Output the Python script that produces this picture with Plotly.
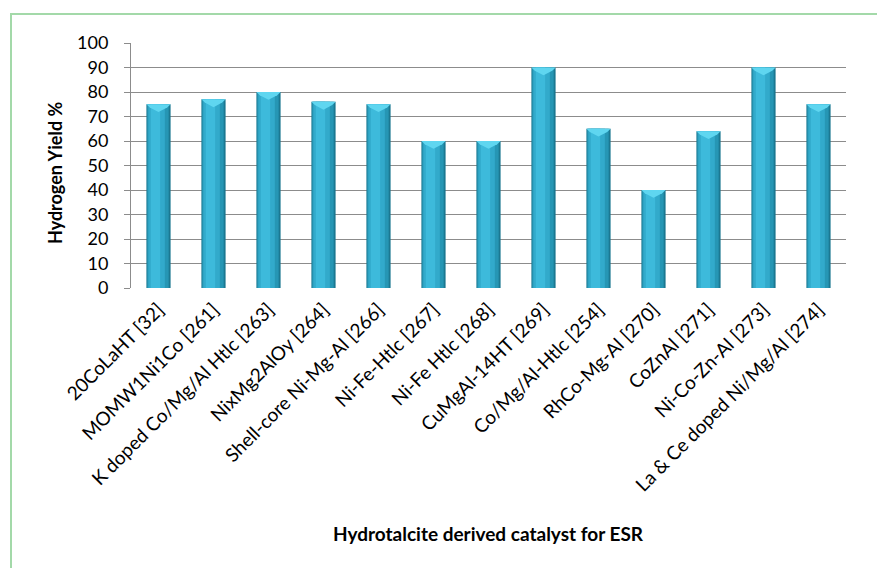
import plotly.graph_objects as go

# Catalysts and their reported hydrogen yield (%)
catalysts = [
    "20CoLaHT [32]",
    "MOMW1Ni1Co [261]",
    "K doped Co/Mg/Al Htlc [263]",
    "NixMg2AlOy [264]",
    "Shell-core Ni-Mg-Al [266]",
    "Ni-Fe-Htlc [267]",
    "Ni-Fe Htlc [268]",
    "CuMgAl-14HT [269]",
    "Co/Mg/Al-Htlc [254]",
    "RhCo-Mg-Al [270]",
    "CoZnAl [271]",
    "Ni-Co-Zn-Al [273]",
    "La & Ce doped Ni/Mg/Al [274]",
]
hydrogen_yield = [75, 77, 80, 76, 75, 60, 60, 90, 65, 40, 64, 90, 75]
y_ticks = [0, 10, 20, 30, 40, 50, 60, 70, 80, 90, 100]

positions = list(range(len(catalysts)))
FONT = "Lato"
GRID = "#8c8c8c"

# Pixel layout of the plotting area inside the 877x568 page
W, H = 877, 568
ML, MR, MT, MB = 131, 31, 43, 280
PW, PH = W - ML - MR, H - MT - MB

fig = go.Figure()

# Layered bars give each column a shaded, cylinder-like look
BAR_W = 0.44
layers = [
    (BAR_W, -BAR_W / 2, "#1b7891"),
    (0.39, -0.205, "#2696b4"),
    (0.30, -0.185, "#32aacb"),
    (0.17, -0.14, "#3dbadb"),
]
for width, offset, color in layers:
    fig.add_trace(go.Bar(
        x=positions, y=hydrogen_yield,
        width=width, offset=offset,
        marker=dict(color=color, line=dict(width=0)),
        hoverinfo="skip" if color != layers[0][2] else None,
        showlegend=False,
    ))

# Lighter bevelled cap on top of each column
half = BAR_W / 2
for x, v in zip(positions, hydrogen_yield):
    path = (f"M {x - half},{v} L {x + half},{v} L {x + half * 0.72},{v - 1.3} "
            f"L {x},{v - 3.2} L {x - half * 0.72},{v - 1.3} Z")
    fig.add_shape(type="path", path=path, xref="x", yref="y",
                  fillcolor="#5fd6f0", line=dict(width=0), layer="above")

fig.update_layout(
    barmode="overlay",
    width=W, height=H,
    margin=dict(l=ML, r=MR, t=MT, b=MB),
    paper_bgcolor="white",
    plot_bgcolor="white",
    font=dict(family=FONT, color="#000000"),
    xaxis=dict(
        range=[-0.5, len(catalysts) - 0.5],
        tickmode="array", tickvals=positions, ticktext=catalysts,
        tickangle=-45, tickfont=dict(size=19, family=FONT),
        showgrid=False, zeroline=False,
        showline=False, ticks="",
        ticklabelstandoff=6,
    ),
    yaxis=dict(
        range=[0, 100],
        tickmode="array", tickvals=y_ticks,
        tickfont=dict(size=18, family=FONT),
        showgrid=True, gridcolor=GRID, gridwidth=1,
        zeroline=False,
        showline=True, linecolor=GRID, linewidth=1,
        ticks="outside", ticklen=6, tickcolor=GRID, tickwidth=1,
        ticklabelstandoff=12,
    ),
    annotations=[
        dict(text="<b>Hydrogen Yield %</b>", textangle=-90,
             x=(55 - ML) / PW, y=(288 - 173) / PH, xref="paper", yref="paper",
             xanchor="center", yanchor="middle", showarrow=False,
             font=dict(size=18, family=FONT)),
        dict(text="<b>Hydrotalcite derived catalyst for ESR</b>",
             x=(488 - ML) / PW, y=(288 - 533) / PH,
             xref="paper", yref="paper",
             xanchor="center", yanchor="middle", showarrow=False,
             font=dict(size=19, family=FONT)),
    ],
)

# Light green frame around the chart
fig.add_shape(type="rect", xref="paper", yref="paper",
              x0=(11 - ML) / PW, x1=(W + 20 - ML) / PW,
              y0=(288 - (H + 20)) / PH, y1=(288 - 14) / PH,
              line=dict(color="#a3d9a9", width=2), fillcolor="rgba(0,0,0,0)",
              layer="below")

fig.write_html("out.html")
